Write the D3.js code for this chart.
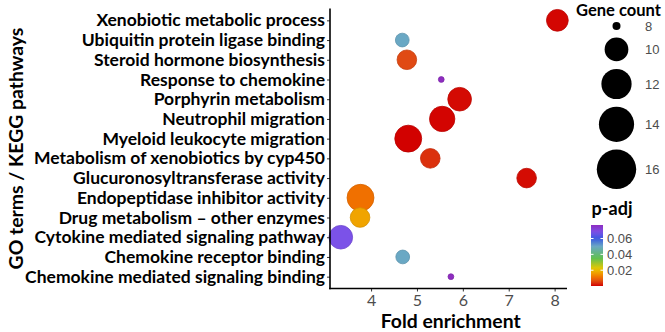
<!DOCTYPE html>
<html>
<head>
<meta charset="utf-8">
<style>
body { margin: 0; background: #fff; }
text { font-family: Lato, "Open Sans", sans-serif; }
.bold { font-weight: bold; fill: #000; }
.num { font-family: "Liberation Sans", Arial, sans-serif; fill: #4d4d4d; }
.axis-line { stroke: #000; stroke-width: 1.6px; }
</style>
</head>
<body>
<svg width="665" height="332"></svg>
<script src="https://d3js.org/d3.v7.min.js"></script>
<script>

// terms, top to bottom as drawn
var terms = [
  "Xenobiotic metabolic process",
  "Ubiquitin protein ligase binding",
  "Steroid hormone biosynthesis",
  "Response to chemokine",
  "Porphyrin metabolism",
  "Neutrophil migration",
  "Myeloid leukocyte migration",
  "Metabolism of xenobiotics by cyp450",
  "Glucuronosyltransferase activity",
  "Endopeptidase inhibitor activity",
  "Drug metabolism \u2013 other enzymes",
  "Cytokine mediated signaling pathway",
  "Chemokine receptor binding",
  "Chemokine mediated signaling binding"
];
var foldEnrichment = [8.06, 4.68, 4.78, 5.53, 5.93, 5.55, 4.81, 5.29, 7.39, 3.77, 3.76, 3.34, 4.69, 5.74];
var geneCount = [12, 9, 11, 8, 13, 14, 15, 11, 11, 15, 11, 13, 9, 8];
var pAdj = [0.0005, 0.05, 0.006, 0.077, 0.0008, 0.0003, 0.0001, 0.004, 0.001, 0.011, 0.017, 0.068, 0.05, 0.077];

var xTicks = [4, 5, 6, 7, 8];
var sizeTicks = [8, 10, 12, 14, 16];
var colorTicks = [0.02, 0.04, 0.06];

var svg = d3.select("svg");

var x = d3.scaleLinear().domain([3.105, 8.27]).range([330, 567]);
var y = d3.scalePoint().domain(terms).range([8.5, 288.5]).padding(0.6);

// gene count -> radius (legend), plot drawn a bit smaller
var sqrtPart = d3.scaleSqrt().domain([0, 8]).range([0, 15.7]);
function rLegend(v) { return 4 + sqrtPart(v - 8); }
function rPlot(v) { return 0.72 * rLegend(v); }

var color = d3.scaleLinear()
    .domain([0, 0.006, 0.011, 0.017, 0.022, 0.035, 0.05, 0.06, 0.068, 0.077])
    .range(["#d20000", "#e04a14", "#f07000", "#f0a400", "#e8c800", "#60c050",
            "#6aa8c4", "#3858e0", "#7b52e8", "#8e2cc0"])
    .clamp(true);

var rows = terms.map(function(t, i) {
  return { term: t, fe: foldEnrichment[i], count: geneCount[i], p: pAdj[i] };
});

// points
svg.append("g").selectAll("circle")
  .data(rows)
  .enter().append("circle")
    .attr("cx", function(d) { return x(d.fe); })
    .attr("cy", function(d) { return y(d.term); })
    .attr("r", function(d) { return rPlot(d.count); })
    .attr("fill", function(d) { return color(d.p); })
    .attr("stroke", function(d) { return d3.color(color(d.p)).darker(0.35); })
    .attr("stroke-width", 0.8);

// axes
var xAxis = svg.append("g")
    .attr("transform", "translate(0,288.5)")
    .call(d3.axisBottom(x).tickValues(xTicks).tickFormat(d3.format("d"))
      .tickSize(3).tickSizeOuter(0));
xAxis.select(".domain").remove();
xAxis.selectAll(".tick line").attr("stroke", "#333");
xAxis.selectAll("text").attr("class", "num")
    .style("font-family", "Lato, sans-serif")
    .attr("font-size", 16).attr("dy", "0.7em");

var yAxis = svg.append("g")
    .attr("transform", "translate(330,0)")
    .call(d3.axisLeft(y).tickSize(3).tickSizeOuter(0).tickPadding(2));
yAxis.select(".domain").remove();
yAxis.selectAll(".tick line").attr("stroke", "#333");
var yLabels = yAxis.selectAll("text").attr("class", "bold").attr("font-size", 15);
var maxW = d3.max(yLabels.nodes(), function(n) { return n.getComputedTextLength(); });
yLabels.attr("font-size", 15 * 300 / maxW);

svg.append("line").attr("class", "axis-line")
    .attr("x1", 330).attr("x2", 330).attr("y1", 8.5).attr("y2", 289.3);
svg.append("line").attr("class", "axis-line")
    .attr("x1", 329.2).attr("x2", 567).attr("y1", 288.5).attr("y2", 288.5);

function fit(sel, target) {
  var fs = parseFloat(sel.attr("font-size"));
  var w = sel.node().getComputedTextLength();
  sel.attr("font-size", fs * target / w);
  return sel;
}

// axis titles
fit(svg.append("text").attr("class", "bold")
    .attr("x", 450.7).attr("y", 328)
    .attr("text-anchor", "middle").attr("font-size", 18)
    .text("Fold enrichment"), 140);

fit(svg.append("text").attr("class", "bold")
    .attr("transform", "translate(23,148.5) rotate(-90)")
    .attr("text-anchor", "middle").attr("font-size", 18)
    .text("GO terms / KEGG pathways"), 242);

// size legend
fit(svg.append("text").attr("class", "bold")
    .attr("x", 576).attr("y", 16).attr("font-size", 16)
    .text("Gene count"), 85);

var ly = [];
sizeTicks.forEach(function(v, i) {
  if (i === 0) ly.push(26);
  else ly.push(ly[i - 1] + rLegend(sizeTicks[i - 1]) + rLegend(v) + 7.6);
});
var sl = svg.append("g").selectAll("g")
  .data(sizeTicks)
  .enter().append("g")
    .attr("transform", function(d, i) { return "translate(616.5," + ly[i] + ")"; });
sl.append("circle").attr("r", function(d) { return rLegend(d); }).attr("fill", "#000");
sl.append("text").attr("class", "num")
    .attr("x", 28.5).attr("dy", "0.36em").attr("font-size", 13)
    .text(function(d) { return d; });

// colour legend
fit(svg.append("text").attr("class", "bold")
    .attr("x", 591.5).attr("y", 215).attr("font-size", 16)
    .text("p-adj"), 41);

var pExt = d3.extent(pAdj);
var cbY = d3.scaleLinear().domain(pExt).range([286, 225]);
var grad = svg.append("defs").append("linearGradient")
    .attr("id", "pgrad").attr("x1", 0).attr("y1", 1).attr("x2", 0).attr("y2", 0);
d3.range(0, 1.0001, 0.05).forEach(function(t) {
  var v = pExt[0] + t * (pExt[1] - pExt[0]);
  grad.append("stop").attr("offset", t).attr("stop-color", color(v));
});
svg.append("rect")
    .attr("x", 591).attr("y", cbY(pExt[1]))
    .attr("width", 12).attr("height", cbY(pExt[0]) - cbY(pExt[1]))
    .attr("fill", "url(#pgrad)");
var ct = svg.append("g").selectAll("g")
  .data(colorTicks)
  .enter().append("g")
    .attr("transform", function(d) { return "translate(591," + cbY(d) + ")"; });
ct.append("line").attr("x1", 0).attr("x2", 2.5).attr("stroke", "#fff").attr("stroke-width", 1);
ct.append("line").attr("x1", 9.5).attr("x2", 12).attr("stroke", "#fff").attr("stroke-width", 1);
ct.append("text").attr("class", "num")
    .attr("x", 16).attr("dy", "0.36em").attr("font-size", 13)
    .text(function(d) { return d3.format(".2f")(d); });

</script>
</body>
</html>
